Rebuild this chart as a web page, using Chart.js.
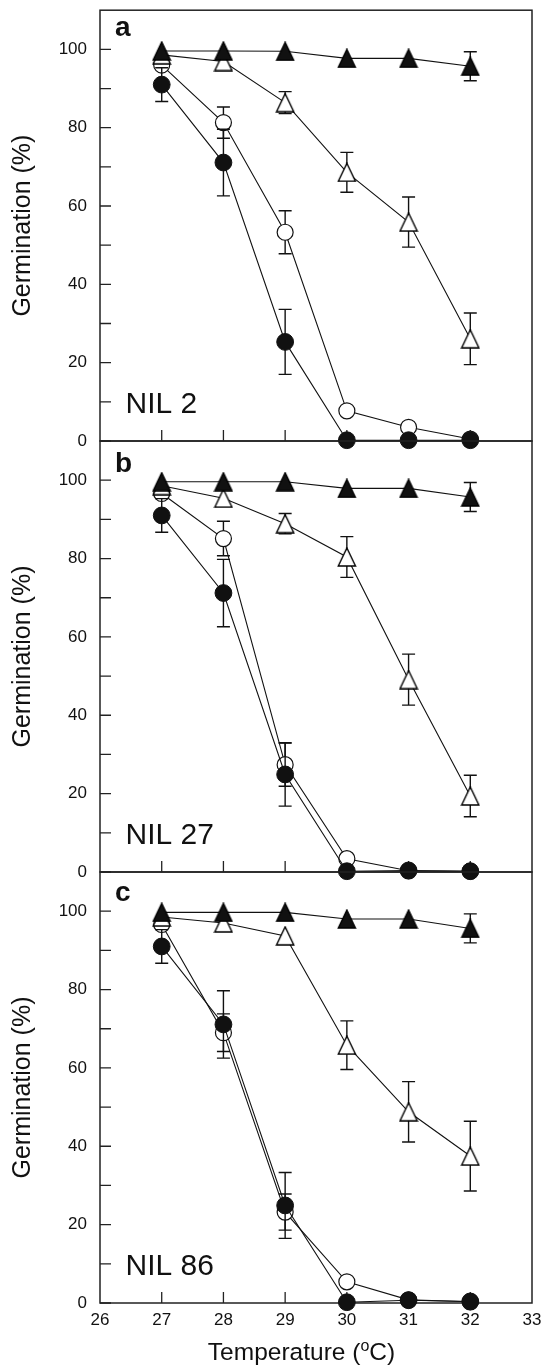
<!DOCTYPE html>
<html><head><meta charset="utf-8">
<script src="https://cdn.jsdelivr.net/npm/chart.js@4.4.1/dist/chart.umd.min.js"></script>
<style>
html,body{margin:0;padding:0;background:#fff;}
#wrap{position:relative;width:544px;height:1365px;overflow:hidden;background:#fff;}
.pane{position:absolute;left:0;width:544px;}
canvas{display:block;}
</style></head><body>
<div id="wrap">
<div class="pane" style="top:0px;height:455px"><canvas id="ca" width="544" height="455"></canvas></div>
<div class="pane" style="top:430px;height:455px"><canvas id="cb" width="544" height="455"></canvas></div>
<div class="pane" style="top:860px;height:505px"><canvas id="cc" width="544" height="505"></canvas></div>
</div>
<script>
// ---------- data ----------
const temperatures = [27, 28, 29, 30, 31, 32];
const xTickValues = [26, 27, 28, 29, 30, 31, 32, 33];
const yTickValues = [0, 10, 20, 30, 40, 50, 60, 70, 80, 90, 100];
const yLabelValues = [0, 20, 40, 60, 80, 100];
const panelLetters = ['a', 'b', 'c'];
const panelNames = ['NIL 2', 'NIL 27', 'NIL 86'];

// panel a (NIL 2)
const aFilledTri     = [99.6, 99.6, 99.5, 97.7, 97.7, 95.7];
const aFilledTriErr  = [0, 0, 0, 0, 0, 3.7];
const aOpenTri       = [98.6, 96.9, 86.4, 68.6, 55.9, 26.1];
const aOpenTriErr    = [0, 0, 2.8, 5.1, 6.4, 6.6];
const aFilledCirc    = [91.0, 71.1, 25.3, 0.2, 0.2, 0.2];
const aFilledCircErr = [4.3, 8.5, 8.3, 0, 0, 0];
const aOpenCirc      = [96.0, 81.3, 53.3, 7.7, 3.5, 0.5];
const aOpenCircErr   = [1.0, 4.0, 5.5, 0.6, 0.4, 0.2];

// panel b (NIL 27)
const bFilledTri     = [99.6, 99.6, 99.6, 97.9, 97.9, 95.7];
const bFilledTriErr  = [0, 0, 0, 0, 0, 3.7];
const bOpenTri       = [98.6, 95.4, 88.9, 80.4, 49.1, 19.4];
const bOpenTriErr    = [0, 0, 2.6, 5.2, 6.5, 5.3];
const bFilledCirc    = [91.0, 71.2, 24.9, 0.2, 0.4, 0.2];
const bFilledCircErr = [4.3, 8.6, 8.1, 0, 0, 0];
const bOpenCirc      = [96.6, 85.1, 27.4, 3.4, 0.3, 0.2];
const bOpenCircErr   = [1.0, 4.4, 5.5, 0.5, 0.2, 0.1];

// panel c (NIL 86)
const cFilledTri     = [99.7, 99.7, 99.7, 98.0, 98.0, 95.6];
const cFilledTriErr  = [0, 0, 0, 0, 0, 3.7];
const cOpenTri       = [98.5, 97.0, 93.7, 65.8, 48.8, 37.5];
const cOpenTriErr    = [0, 0, 0, 6.2, 7.7, 8.9];
const cFilledCirc    = [91.0, 71.1, 24.9, 0.2, 0.7, 0.4];
const cFilledCircErr = [4.3, 8.6, 8.4, 0, 0, 0];
const cOpenCirc      = [96.6, 69.0, 23.2, 5.4, 0.8, 0.3];
const cOpenCircErr   = [1.0, 4.8, 4.6, 0.5, 0.3, 0.1];

// ---------- styles ----------
const FONT = '"Liberation Sans", Arial, Helvetica, sans-serif';
const INK = '#111';
Chart.defaults.font.family = FONT;
Chart.defaults.color = INK;

function triImage(filled) {
  const c = document.createElement('canvas');
  c.width = 20; c.height = 20;
  const g = c.getContext('2d');
  g.beginPath();
  g.moveTo(10, 1); g.lineTo(18.6, 19); g.lineTo(1.4, 19); g.closePath();
  g.fillStyle = filled ? INK : '#fff';
  g.fill();
  g.lineWidth = 1.4; g.strokeStyle = '#000'; g.lineJoin = 'miter';
  g.stroke();
  return c;
}
const TRI_FILLED = triImage(true);
const TRI_OPEN = triImage(false);

function pts(vals) { return temperatures.map((t, i) => ({x: t, y: vals[i]})); }

function series(vals, errs, kind) {
  const base = {
    data: pts(vals), errors: errs, borderColor: INK, borderWidth: 1.1,
    tension: 0, fill: false, clip: false, pointHoverRadius: 9
  };
  if (kind === 'triF') return Object.assign(base, {pointStyle: TRI_FILLED, pointRadius: 9});
  if (kind === 'triO') return Object.assign(base, {pointStyle: TRI_OPEN, pointRadius: 9});
  if (kind === 'cirF') return Object.assign(base, {pointStyle: 'circle', pointRadius: 8.4, pointBackgroundColor: INK, pointBorderColor: INK, pointBorderWidth: 1});
  return Object.assign(base, {pointStyle: 'circle', pointRadius: 8, pointBackgroundColor: '#fff', pointBorderColor: INK, pointBorderWidth: 1.2});
}

// error bars drawn just before each dataset (so they sit behind its own markers)
const errorBars = {
  id: 'errorBars',
  beforeDatasetDraw(chart, args) {
    const ds = chart.data.datasets[args.index];
    if (!ds.errors) return;
    const {x, y} = chart.scales;
    const ctx = chart.ctx;
    ctx.save();
    ctx.strokeStyle = INK; ctx.lineWidth = 1.4;
    ds.data.forEach((p, i) => {
      const e = ds.errors[i];
      if (!e) return;
      const px = x.getPixelForValue(p.x);
      const top = y.getPixelForValue(p.y + e), bot = y.getPixelForValue(p.y - e);
      ctx.beginPath();
      ctx.moveTo(px, top); ctx.lineTo(px, bot);
      ctx.moveTo(px - 6.5, top); ctx.lineTo(px + 6.5, top);
      ctx.moveTo(px - 6.5, bot); ctx.lineTo(px + 6.5, bot);
      ctx.stroke();
    });
    ctx.restore();
  }
};

// frame + inward tick marks
const frame = {
  id: 'frame',
  beforeDatasetsDraw(chart) {
    const {ctx, chartArea: a} = chart;
    const {x, y} = chart.scales;
    ctx.save();
    ctx.strokeStyle = '#222'; ctx.lineWidth = 1.5;
    ctx.strokeRect(a.left, a.top, a.right - a.left, a.bottom - a.top);
    ctx.beginPath();
    x.ticks.forEach(t => {
      const px = x.getPixelForValue(t.value);
      if (px <= a.left + 1 || px >= a.right - 1) return;
      ctx.moveTo(px, a.bottom); ctx.lineTo(px, a.bottom - 11);
    });
    y.ticks.forEach(t => {
      const py = y.getPixelForValue(t.value);
      ctx.moveTo(a.left, py); ctx.lineTo(a.left + 11, py);
    });
    ctx.lineWidth = 1.3;
    ctx.stroke();
    ctx.restore();
  }
};

// panel letters, panel names, x title
const labels = {
  id: 'labels',
  afterDraw(chart, args, opts) {
    const {ctx, chartArea: a} = chart;
    ctx.save();
    ctx.fillStyle = INK;
    ctx.textBaseline = 'alphabetic';
    ctx.textAlign = 'left';
    ctx.font = 'bold 28px ' + FONT;
    ctx.fillText(opts.letter, a.left + 15, a.top + opts.letterOffset);
    ctx.font = '30px ' + FONT;
    ctx.fillText(opts.name, a.left + 25.5, a.bottom - 27.7);
    if (opts.xTitle) {
      const p1 = 'Temperature (', sup = 'o', p2 = 'C)';
      ctx.font = '24.5px ' + FONT;
      const w1 = ctx.measureText(p1).width, w2 = ctx.measureText(p2).width;
      ctx.font = '16px ' + FONT;
      const ws = ctx.measureText(sup).width;
      const total = w1 + ws + w2;
      let sx = 301.5 - total / 2;
      const by = a.bottom + 57;
      ctx.font = '24.5px ' + FONT;
      ctx.fillText(p1, sx, by);
      ctx.font = '16px ' + FONT;
      ctx.fillText(sup, sx + w1, by - 9);
      ctx.font = '24.5px ' + FONT;
      ctx.fillText(p2, sx + w1 + ws, by);
    }
    ctx.restore();
  }
};

function zeroPad(s) { s.paddingTop = 0; s.paddingBottom = 0; s.paddingLeft = 0; s.paddingRight = 0; }

function makePanel(id, p) {
  const datasets = [
    series(p.ft, p.fte, 'triF'),
    series(p.ot, p.ote, 'triO'),
    series(p.fc, p.fce, 'cirF'),
    series(p.oc, p.oce, 'cirO')
  ];
  return new Chart(document.getElementById(id), {
    type: 'line',
    data: {datasets},
    options: {
      responsive: false, animation: false,
      layout: {padding: {left: 0, right: 12, top: p.padTop, bottom: 0}},
      plugins: {
        legend: {display: false}, tooltip: {enabled: false},
        labels: {letter: p.letter, letterOffset: p.letterOffset, name: p.name, xTitle: p.showX}
      },
      scales: {
        x: {
          type: 'linear', min: 26, max: 33,
          afterBuildTicks: s => { s.ticks = xTickValues.map(v => ({value: v})); },
          ticks: {display: p.showX, font: {size: 17}, color: INK, padding: 7, maxRotation: 0, autoSkip: false},
          grid: {display: false, drawTicks: false},
          border: {display: false},
          afterFit: s => { s.height = p.xHeight; zeroPad(s); }
        },
        y: {
          type: 'linear', min: 0, max: 110,
          afterBuildTicks: s => { s.ticks = yTickValues.map(v => ({value: v})); },
          ticks: {
            font: {size: 17}, color: INK, padding: 13, autoSkip: false,
            callback: v => yLabelValues.includes(v) ? String(v) : ''
          },
          grid: {display: false, drawTicks: false},
          border: {display: false},
          title: {display: true, text: 'Germination (%)', font: {size: 25}, color: INK, padding: {top: 8, bottom: 0}},
          afterFit: s => { s.width = 100; zeroPad(s); }
        }
      }
    },
    plugins: [frame, errorBars, labels]
  });
}

makePanel('ca', {ft: aFilledTri, fte: aFilledTriErr, ot: aOpenTri, ote: aOpenTriErr, fc: aFilledCirc, fce: aFilledCircErr, oc: aOpenCirc, oce: aOpenCircErr,
  padTop: 9, xHeight: 14, showX: false, letter: panelLetters[0], letterOffset: 26, name: panelNames[0]});
makePanel('cb', {ft: bFilledTri, fte: bFilledTriErr, ot: bOpenTri, ote: bOpenTriErr, fc: bFilledCirc, fce: bFilledCircErr, oc: bOpenCirc, oce: bOpenCircErr,
  padTop: 11, xHeight: 13, showX: false, letter: panelLetters[1], letterOffset: 30.5, name: panelNames[1]});
makePanel('cc', {ft: cFilledTri, fte: cFilledTriErr, ot: cOpenTri, ote: cOpenTriErr, fc: cFilledCirc, fce: cFilledCircErr, oc: cOpenCirc, oce: cOpenCircErr,
  padTop: 12, xHeight: 62, showX: true, letter: panelLetters[2], letterOffset: 29, name: panelNames[2]});
</script>
</body></html>
